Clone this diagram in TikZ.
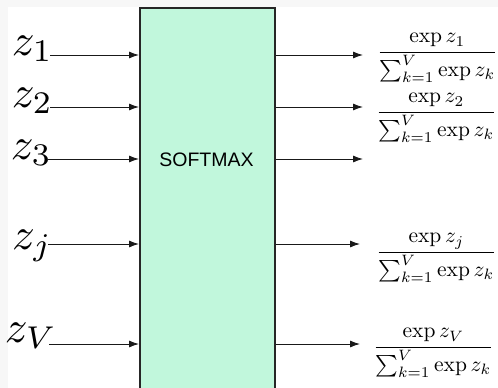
\documentclass[tikz,border=0pt]{standalone}
\usepackage{fontspec}
\usepackage{amsmath}
\newfontfamily\boxfont{Liberation Sans}
\usetikzlibrary{arrows.meta}
\definecolor{mint}{RGB}{193,247,220}
\definecolor{frame}{RGB}{247,247,247}
\begin{document}
\begin{tikzpicture}[x=1pt,y=-1pt,
  arr/.style={-{Latex[length=10pt,width=7pt]}, line width=0.9pt, draw=black!90},
  lab/.style={scale=4.5, inner sep=0, anchor=base east},
  frac/.style={scale=2.15, inner sep=0, anchor=base west},
  block/.style={draw=black!85, line width=1.5pt, fill=mint, inner sep=0,
    minimum width=135pt, minimum height=400pt, anchor=north west}]
  % page and white drawing area
  \fill[frame] (0,0) rectangle (498,388);
  \fill[white] (8,7) rectangle (498,388);
  \useasboundingbox (0,0) rectangle (498,388);

  % the softmax block, running off the bottom edge
  \begin{scope}
    \clip (0,0) rectangle (498,388);
    \node[block] (box) at (139,7) {};
  \end{scope}
  \node[font=\boxfont\fontsize{19.5}{22}\selectfont] (sm) at (206.5,160) {SOFTMAX};

  % row heights
  \coordinate (r1) at (0,55);
  \coordinate (r2) at (0,107);
  \coordinate (r3) at (0,159);
  \coordinate (rj) at (0,244);
  \coordinate (rV) at (0,344);

  % inputs
  \node[lab] (z1) at (54,55) {$z_1$};
  \node[lab] (z2) at (54,107) {$z_2$};
  \node[lab] (z3) at (53,159) {$z_3$};
  \node[lab] (zj) at (53,249) {$z_j$};
  \node[lab] (zV) at (58,342) {$z_V$};

  \draw[arr] ([xshift=-4pt]z1.east |- r1) -- (box.west |- r1);
  \draw[arr] ([xshift=-4pt]z2.east |- r2) -- (box.west |- r2);
  \draw[arr] ([xshift=-5pt]z3.east |- r3) -- (box.west |- r3);
  \draw[arr] ([xshift=-5pt]zj.east |- rj) -- (box.west |- rj);
  \draw[arr] ([xshift=-9pt]zV.east |- rV) -- (box.west |- rV);

  % outputs
  \node[frac] (f1) at (376.5,57.4) {$\dfrac{\exp z_1}{\sum_{k=1}^{V}\exp z_k}$};
  \node[frac] (f2) at (375.5,117.4) {$\dfrac{\exp z_2}{\sum_{k=1}^{V}\exp z_k}$};
  \node[frac] (fj) at (375.5,257.4) {$\dfrac{\exp z_j}{\sum_{k=1}^{V}\exp z_k}$};
  \node[frac] (fV) at (372.5,352.4) {$\dfrac{\exp z_V}{\sum_{k=1}^{V}\exp z_k}$};
  \coordinate (o3) at (363,159);

  \draw[arr] (box.east |- r1) -- ([xshift=-13.5pt]f1.west |- r1);
  \draw[arr] (box.east |- r2) -- ([xshift=-12.5pt]f2.west |- r2);
  \draw[arr] (box.east |- r3) -- (o3);
  \draw[arr] (box.east |- rj) -- ([xshift=-15.5pt]fj.west |- rj);
  \draw[arr] (box.east |- rV) -- ([xshift=-12.5pt]fV.west |- rV);
\end{tikzpicture}
\end{document}
